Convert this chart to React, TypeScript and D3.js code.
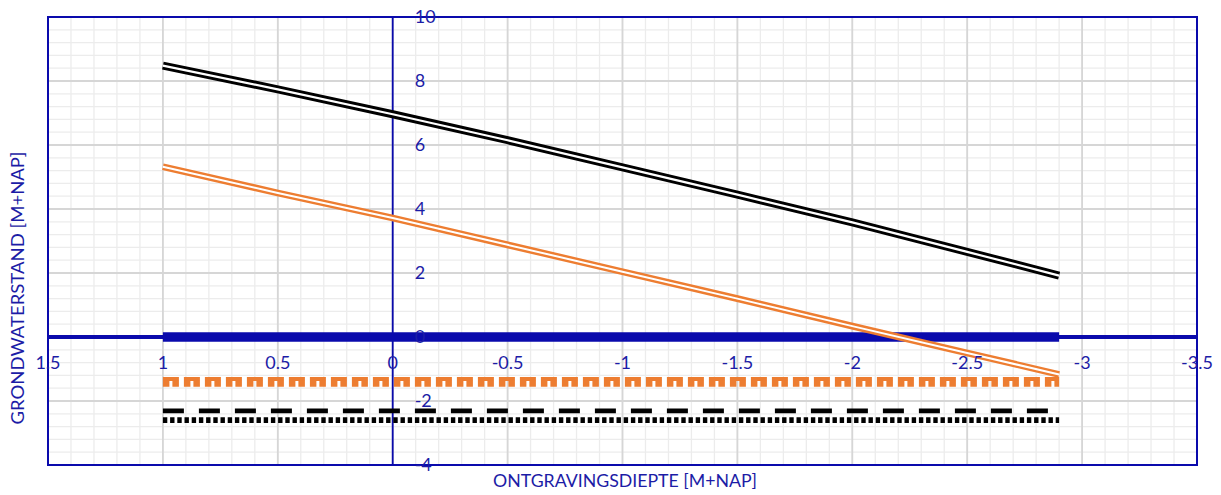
import * as d3 from 'd3';
import { useEffect, useRef } from 'react';

// ontgravingsdiepte (m+NAP) along the x axis, reversed
const depth = [1, 0.5, 0, -0.5, -1, -1.5, -2, -2.5, -2.9];
const blackLevel = [8.48, 7.74, 6.96, 6.15, 5.3, 4.45, 3.58, 2.66, 1.92];
const orangeLevel = [5.32, 4.5, 3.72, 2.88, 2.04, 1.2, 0.34, -0.5, -1.17];
const blueLevel = [0, 0, 0, 0, 0, 0, 0, 0, 0];
const orangeDotLevel = [-1.38, -1.38, -1.38, -1.38, -1.38, -1.38, -1.38, -1.38, -1.38];
const blackDashLevel = [-2.31, -2.31, -2.31, -2.31, -2.31, -2.31, -2.31, -2.31, -2.31];
const blackDotLevel = [-2.6, -2.6, -2.6, -2.6, -2.6, -2.6, -2.6, -2.6, -2.6];

const xTicks = [1.5, 1, 0.5, 0, -0.5, -1, -1.5, -2, -2.5, -3, -3.5];
const yTicks = [10, 8, 6, 4, 2, 0, -2, -4];

const xTitle = 'ONTGRAVINGSDIEPTE [M+NAP]';
const yTitle = 'GRONDWATERSTAND [M+NAP]';

const BLUE = '#0a0aac';
const TEXT = '#1c1ca6';
const ORANGE = '#ed7d31';

export default function App() {
    const ref = useRef<SVGSVGElement | null>(null);

    useEffect(() => {
        const svg = d3.select(ref.current);
        svg.selectAll('*').remove();

        const width = 1221;
        const height = 495;
        const margin = { top: 17, right: 24, bottom: 30, left: 48 };

        const x = d3.scaleLinear().domain([1.5, -3.5]).range([margin.left, width - margin.right]);
        const y = d3.scaleLinear().domain([-4, 10]).range([height - margin.bottom, margin.top]);

        svg.attr('width', width).attr('height', height);
        svg.append('rect').attr('width', width).attr('height', height).attr('fill', '#fff');

        // minor grid
        const minorX = d3.range(15, -36, -1).map(d => d / 10);
        const minorY = d3.range(-40, 101, 4).map(d => d / 10);
        const grid = svg.append('g');
        grid.selectAll('.mx').data(minorX).enter().append('line')
            .attr('x1', d => x(d)).attr('x2', d => x(d))
            .attr('y1', y(10)).attr('y2', y(-4))
            .attr('stroke', '#ececec').attr('stroke-width', 1.3);
        grid.selectAll('.my').data(minorY).enter().append('line')
            .attr('x1', x(1.5)).attr('x2', x(-3.5))
            .attr('y1', d => y(d)).attr('y2', d => y(d))
            .attr('stroke', '#ececec').attr('stroke-width', 1.3);
        // major grid
        grid.selectAll('.Mx').data(xTicks).enter().append('line')
            .attr('x1', d => x(d)).attr('x2', d => x(d))
            .attr('y1', y(10)).attr('y2', y(-4))
            .attr('stroke', '#d6d6d6').attr('stroke-width', 1.8);
        grid.selectAll('.My').data(yTicks).enter().append('line')
            .attr('x1', x(1.5)).attr('x2', x(-3.5))
            .attr('y1', d => y(d)).attr('y2', d => y(d))
            .attr('stroke', '#d6d6d6').attr('stroke-width', 1.8);

        // plot border
        svg.append('rect')
            .attr('x', x(1.5)).attr('y', y(10))
            .attr('width', x(-3.5) - x(1.5)).attr('height', y(-4) - y(10))
            .attr('fill', 'none').attr('stroke', BLUE).attr('stroke-width', 2);

        // axes through origin
        svg.append('line')
            .attr('x1', x(0)).attr('x2', x(0)).attr('y1', y(10)).attr('y2', y(-4))
            .attr('stroke', BLUE).attr('stroke-width', 1.8);
        svg.append('line')
            .attr('x1', x(1.5)).attr('x2', x(-3.5)).attr('y1', y(0)).attr('y2', y(0))
            .attr('stroke', BLUE).attr('stroke-width', 4);

        const line = (vals: number[]) =>
            d3.line<number>().x((_, i) => x(depth[i])).y(d => y(d))(vals);

        const draw = (vals: number[], stroke: string, w: number, dash?: string, dy = 0) =>
            svg.append('path')
                .attr('d', line(vals))
                .attr('transform', `translate(0,${dy})`)
                .attr('fill', 'none')
                .attr('stroke', stroke)
                .attr('stroke-width', w)
                .attr('stroke-dasharray', dash ?? null);

        // blue thick level
        draw(blueLevel, BLUE, 9.5);

        // orange square-dot series (block with a notch, period 21)
        draw(orangeDotLevel, ORANGE, 4, '16 5', -2.2);
        draw(orangeDotLevel, ORANGE, 6, '6.5 3 6.5 5', 2.6);

        // black dashed and dotted series
        draw(blackDashLevel, '#000', 4.6, '21 15');
        draw(blackDotLevel, '#000', 5.8, '4.4 2.8');

        // double lines
        draw(orangeLevel, ORANGE, 6.8);
        draw(orangeLevel, '#fff', 2);
        draw(blackLevel, '#000', 8);
        draw(blackLevel, '#fff', 2.2);

        // tick labels
        const font = 'Lato, "Open Sans", sans-serif';
        svg.append('g').selectAll('text').data(xTicks).enter().append('text')
            .attr('x', d => x(d)).attr('y', y(0) + 32)
            .attr('text-anchor', 'middle')
            .attr('font-family', font).attr('font-size', 18).attr('fill', TEXT)
            .text(d => String(d));
        svg.append('g').selectAll('text').data(yTicks).enter().append('text')
            .attr('x', x(0) + 22).attr('y', d => y(d))
            .attr('dy', '0.36em')
            .attr('font-family', font).attr('font-size', 18).attr('fill', TEXT)
            .text(d => String(d));

        // axis titles
        svg.append('text')
            .attr('x', 625).attr('y', 487)
            .attr('text-anchor', 'middle')
            .attr('font-family', font).attr('font-size', 17).attr('fill', TEXT)
            .attr('textLength', 264).attr('lengthAdjust', 'spacingAndGlyphs')
            .text(xTitle);
        svg.append('text')
            .attr('transform', `translate(24,288) rotate(-90)`)
            .attr('text-anchor', 'middle')
            .attr('font-family', font).attr('font-size', 18).attr('fill', TEXT)
            .attr('textLength', 273).attr('lengthAdjust', 'spacingAndGlyphs')
            .text(yTitle);
    }, []);

    return <svg ref={ref} style={{ position: 'absolute', left: 0, top: 0 }}></svg>;
}
